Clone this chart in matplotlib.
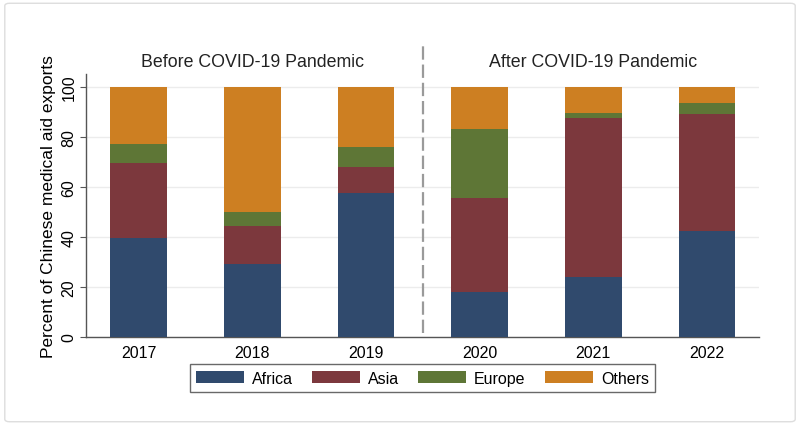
import numpy as np
import matplotlib
matplotlib.use("Agg")
from matplotlib import pyplot as plt
from matplotlib.patches import FancyBboxPatch

plt.rcParams['font.family'] = ['Liberation Sans', 'DejaVu Sans']

years = ["2017", "2018", "2019", "2020", "2021", "2022"]
africa = np.array([39.6, 29.0, 57.4, 18.0, 23.9, 42.2])
asia = np.array([29.7, 15.3, 10.6, 37.5, 63.6, 46.9])
europe = np.array([7.7, 5.6, 7.7, 27.6, 2.0, 4.3])
others = 100 - africa - asia - europe
regions = ["Africa", "Asia", "Europe", "Others"]
colors = ["#304a6d", "#7c383d", "#5e7636", "#cd7f22"]
period_titles = ["Before COVID-19 Pandemic", "After COVID-19 Pandemic"]

fig = plt.figure(figsize=(8, 4.27), dpi=100)
ax = fig.add_axes([0.108, 0.2084, 0.841, 0.616])

x = np.arange(len(years))
bottom = np.zeros(len(years))
for vals, name, col in zip([africa, asia, europe, others], regions, colors):
    ax.bar(x, vals, 0.5, bottom=bottom, color=col, label=name, zorder=3)
    bottom += vals

ax.set_xlim(-0.46, 5.46)
ax.set_ylim(0, 105)
ax.set_yticks([0, 20, 40, 60, 80, 100])
ax.set_xticks(x)
ax.set_xticklabels(years, fontsize=11.5)
ax.tick_params(axis='x', length=0, pad=6)
ax.tick_params(axis='y', length=4, color="#555555", pad=3)
for lab in ax.get_yticklabels():
    lab.set_rotation(90)
    lab.set_va('center')
    lab.set_fontsize(11.5)
ax.grid(axis='y', color="#ececec", linewidth=1, zorder=0)
for s in ['top', 'right']:
    ax.spines[s].set_visible(False)
for s in ['left', 'bottom']:
    ax.spines[s].set_color("#555555")
    ax.spines[s].set_linewidth(1)
ax.set_ylabel("Percent of Chinese medical aid exports", fontsize=12.5, labelpad=4)

# divider between periods
ax.plot([2.5, 2.5], [1.5, 117], color="#9a9a9a", lw=1.6, ls=(0, (6, 2.2)),
        clip_on=False, zorder=4)

ax.text(1, 110, period_titles[0], ha='center', va='center', fontsize=12.8,
        color="#222222")
ax.text(4, 110, period_titles[1], ha='center', va='center', fontsize=12.8,
        color="#222222")

leg = fig.legend(loc='center', bbox_to_anchor=(0.528, 0.112), ncol=4,
                 fontsize=11.5, frameon=True, fancybox=False,
                 handlelength=3.0, handleheight=0.8, columnspacing=1.2,
                 handletextpad=0.5, borderpad=0.4, borderaxespad=0)
leg.get_frame().set_edgecolor("#444444")
leg.get_frame().set_linewidth(1)

fig.patches.append(FancyBboxPatch((0.006, 0.01), 0.988, 0.98,
                                  boxstyle="round,pad=0,rounding_size=0.006",
                                  transform=fig.transFigure, fill=False,
                                  edgecolor="#dddddd", linewidth=1))

fig.savefig("out.png", dpi=100)
